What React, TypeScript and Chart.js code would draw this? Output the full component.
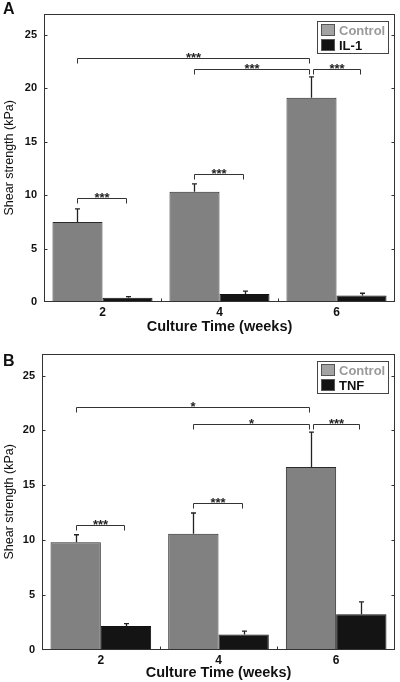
import React, { useEffect, useRef } from "react";
import { Chart, registerables } from "chart.js";
Chart.register(...registerables);

const FONT = "Arial, 'Liberation Sans', Helvetica, sans-serif";

const categories = ["2", "4", "6"];
const yTickValues = [0, 5, 10, 15, 20, 25];
const yMax = 27;

// Panel A
const controlA = [7.5, 10.33, 19.13];
const controlAErr = [1.22, 0.72, 1.94];
const il1 = [0.4, 0.75, 0.6];
const il1Err = [0.1, 0.27, 0.22];

// Panel B
const controlB = [9.82, 10.58, 16.68];
const controlBErr = [0.68, 1.9, 3.17];
const tnf = [2.18, 1.42, 3.26];
const tnfErr = [0.22, 0.3, 1.12];

// Significance brackets: [datasetFrom, categoryFrom, datasetTo, categoryTo]
const bracketPairs = [
  [0, 0, 1, 0],
  [0, 1, 1, 1],
  [0, 0, 0, 2],
  [0, 1, 0, 2],
  [0, 2, 1, 2],
];
const bracketLevelsA = [9.78, 12.0, 22.87, 21.77, 21.77];
const bracketLabelsA = ["***", "***", "***", "***", "***"];
const bracketLevelsB = [11.42, 13.42, 22.15, 20.6, 20.6];
const bracketLabelsB = ["***", "***", "*", "*", "***"];

type PanelProps = {
  letter: string;
  treatLabel: string;
  control: number[];
  controlErr: number[];
  treat: number[];
  treatErr: number[];
  levels: number[];
  labels: string[];
  height: number;
  padTop: number;
  yAxisWidth: number;
  xAxisHeight: number;
  titlePadBottom: number;
  letterY: number;
};

function Panel(p: PanelProps) {
  const ref = useRef<HTMLCanvasElement | null>(null);
  useEffect(() => {
    if (!ref.current) return;
    const errs = [p.controlErr, p.treatErr];
    const vals = [p.control, p.treat];
    const overlay = {
      id: "overlay" + p.letter,
      afterDatasetsDraw(chart: any) {
        const { ctx, chartArea: a, scales } = chart;
        const x = scales.x;
        const y = scales.y;
        ctx.save();
        // error bars
        ctx.strokeStyle = "#222";
        ctx.lineWidth = 1.3;
        for (let d = 0; d < 2; d++) {
          const meta = chart.getDatasetMeta(d);
          meta.data.forEach((el: any, j: number) => {
            const xt = Math.round(el.x) + 0.5;
            const yt = y.getPixelForValue(vals[d][j] + errs[d][j]);
            ctx.beginPath();
            ctx.moveTo(xt, el.y);
            ctx.lineTo(xt, yt);
            ctx.moveTo(xt - 2.5, yt);
            ctx.lineTo(xt + 2.5, yt);
            ctx.stroke();
          });
        }
        // frame
        ctx.strokeStyle = "#333";
        ctx.lineWidth = 1;
        const L = Math.round(a.left) + 0.5;
        const R = Math.round(a.right) - 0.5;
        const T = Math.round(a.top) + 0.5;
        const B = Math.round(a.bottom) - 0.5;
        ctx.strokeRect(L, T, R - L, B - T);
        // inward ticks
        ctx.beginPath();
        yTickValues.forEach((v) => {
          if (v === 0) return;
          const yy = Math.round(y.getPixelForValue(v)) + 0.5;
          ctx.moveTo(L, yy);
          ctx.lineTo(L + 3, yy);
          ctx.moveTo(R, yy);
          ctx.lineTo(R - 3, yy);
        });
        for (let i = 0; i < categories.length - 1; i++) {
          const xx = Math.round((x.getPixelForTick(i) + x.getPixelForTick(i + 1)) / 2) + 0.5;
          ctx.moveTo(xx, B);
          ctx.lineTo(xx, B - 3);
        }
        ctx.stroke();
        // brackets
        ctx.strokeStyle = "#333";
        ctx.lineWidth = 1;
        ctx.fillStyle = "#222";
        ctx.font = "bold 13px " + FONT;
        ctx.textAlign = "center";
        ctx.textBaseline = "alphabetic";
        bracketPairs.forEach((pr, k) => {
          const [d1, c1, d2, c2] = pr;
          let x1 = chart.getDatasetMeta(d1).data[c1].x;
          let x2 = chart.getDatasetMeta(d2).data[c2].x - 2;
          const sharesEnd = bracketPairs.some((q, m) => m !== k && q[2] === d1 && q[3] === c1);
          if (sharesEnd) x1 += 2;
          x1 = Math.round(x1) + 0.5;
          x2 = Math.round(x2) + 0.5;
          const yy = Math.round(y.getPixelForValue(p.levels[k])) + 0.5;
          ctx.beginPath();
          ctx.moveTo(x1, yy + 5);
          ctx.lineTo(x1, yy);
          ctx.lineTo(x2, yy);
          ctx.lineTo(x2, yy + 5);
          ctx.stroke();
          ctx.fillText(p.labels[k], (x1 + x2) / 2, yy + 3.5);
        });
        // legend
        const lx = a.right - 78;
        const ly = a.top + 7;
        ctx.strokeStyle = "#444";
        ctx.strokeRect(Math.round(lx) + 0.5, Math.round(ly) + 0.5, 71, 32);
        const items = [
          { label: chart.data.datasets[0].label, fill: "#a3a3a3", text: "#9a9a9a" },
          { label: chart.data.datasets[1].label, fill: "#121212", text: "#111" },
        ];
        ctx.textAlign = "left";
        ctx.textBaseline = "middle";
        ctx.font = "bold 13px " + FONT;
        items.forEach((it, i) => {
          const sy = Math.round(ly) + 3 + i * 15;
          ctx.fillStyle = it.fill;
          ctx.fillRect(Math.round(lx) + 4, sy, 14, 12);
          ctx.strokeStyle = "#555";
          ctx.strokeRect(Math.round(lx) + 4.5, sy + 0.5, 13, 11);
          ctx.fillStyle = it.text;
          ctx.fillText(it.label, Math.round(lx) + 22, sy + 7);
        });
        // panel letter
        ctx.fillStyle = "#111";
        ctx.font = "bold 16px " + FONT;
        ctx.textAlign = "left";
        ctx.textBaseline = "alphabetic";
        ctx.fillText(p.letter, 3, p.letterY);
        ctx.restore();
      },
    };

    const chart = new Chart(ref.current, {
      type: "bar",
      data: {
        labels: categories,
        datasets: [
          {
            label: "Control",
            data: p.control,
            backgroundColor: "#818181",
            borderColor: "#2a2a2a",
            borderWidth: 1,
            categoryPercentage: 0.855,
            barPercentage: 1,
          },
          {
            label: p.treatLabel,
            data: p.treat,
            backgroundColor: "#141414",
            borderColor: "#111",
            borderWidth: 1,
            categoryPercentage: 0.855,
            barPercentage: 1,
          },
        ],
      },
      options: {
        responsive: false,
        animation: false,
        devicePixelRatio: 1,
        layout: { padding: { top: p.padTop, right: 5, bottom: 0, left: 0 } },
        plugins: {
          legend: { display: false },
          tooltip: { enabled: false },
        },
        scales: {
          x: {
            grid: { display: false, drawTicks: false },
            border: { display: false },
            ticks: {
              color: "#111",
              padding: 3,
              font: { family: FONT, size: 12, weight: "bold" },
            },
            title: {
              display: true,
              text: "Culture Time (weeks)",
              color: "#111",
              font: { family: FONT, size: 14.5, weight: "bold" },
              padding: { top: 0, bottom: p.titlePadBottom },
            },
            afterFit: (s: any) => {
              s.height = p.xAxisHeight;
            },
          },
          y: {
            min: 0,
            max: yMax,
            grid: { display: false, drawTicks: false },
            border: { display: false },
            ticks: {
              stepSize: 5,
              color: "#111",
              padding: 7,
              font: { family: FONT, size: 11, weight: "bold" },
            },
            afterBuildTicks: (s: any) => {
              s.ticks = yTickValues.map((v) => ({ value: v }));
            },
            title: {
              display: true,
              text: "Shear strength (kPa)",
              color: "#111",
              font: { family: FONT, size: 12.5, weight: "normal" },
              padding: { top: 2, bottom: 0 },
            },
            afterFit: (s: any) => {
              s.width = p.yAxisWidth;
            },
          },
        },
      } as any,
      plugins: [overlay],
    });
    return () => chart.destroy();
  }, []);
  return (
    <canvas
      ref={ref}
      width={400}
      height={p.height}
      style={{ display: "block", width: 400, height: p.height }}
    />
  );
}

export default function App() {
  useEffect(() => {
    document.body.style.margin = "0";
    document.body.style.background = "#fff";
  }, []);
  return (
    <div style={{ width: 400, background: "#fff" }}>
      <Panel
        letter="A"
        treatLabel="IL-1"
        control={controlA}
        controlErr={controlAErr}
        treat={il1}
        treatErr={il1Err}
        levels={bracketLevelsA}
        labels={bracketLabelsA}
        height={340}
        padTop={4}
        yAxisWidth={44}
        xAxisHeight={38}
        titlePadBottom={4}
        letterY={14}
      />
      <Panel
        letter="B"
        treatLabel="TNF"
        control={controlB}
        controlErr={controlBErr}
        treat={tnf}
        treatErr={tnfErr}
        levels={bracketLevelsB}
        labels={bracketLabelsB}
        height={342}
        padTop={13}
        yAxisWidth={42}
        xAxisHeight={32}
        titlePadBottom={0}
        letterY={26}
      />
    </div>
  );
}
